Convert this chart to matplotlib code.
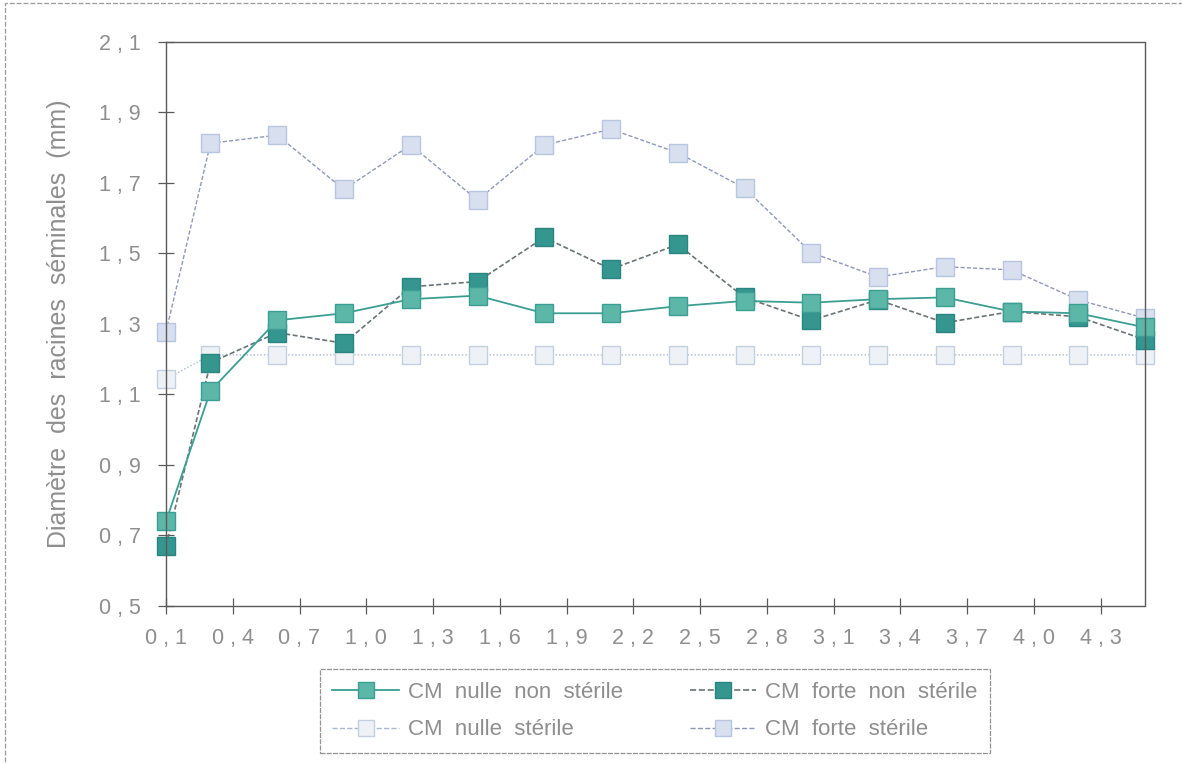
"""Diamètre des racines séminales selon la distance, quatre traitements CM."""

import matplotlib

matplotlib.use("Agg")
import matplotlib.pyplot as plt
from matplotlib.lines import Line2D
from matplotlib.patches import Rectangle

plt.rcParams["font.family"] = ["Liberation Sans", "DejaVu Sans"]

# distance (abscisse) and diameters in mm
distance = [0.1, 0.3, 0.6, 0.9, 1.2, 1.5, 1.8, 2.1, 2.4, 2.7, 3.0, 3.3, 3.6, 3.9, 4.2, 4.5]
nulle_non_sterile = [0.74, 1.11, 1.31, 1.33, 1.37, 1.38, 1.33, 1.33, 1.35, 1.365,
                     1.36, 1.37, 1.375, 1.335, 1.33, 1.29]
forte_non_sterile = [0.67, 1.19, 1.275, 1.245, 1.405, 1.42, 1.545, 1.455, 1.525, 1.375,
                     1.31, 1.368, 1.303, 1.335, 1.32, 1.255]
nulle_sterile = [1.143, 1.212, 1.212, 1.212, 1.212, 1.212, 1.212, 1.212, 1.212, 1.212,
                 1.212, 1.212, 1.212, 1.212, 1.212, 1.212]
forte_sterile = [1.277, 1.812, 1.835, 1.681, 1.807, 1.651, 1.807, 1.852, 1.785, 1.685,
                 1.502, 1.433, 1.462, 1.453, 1.368, 1.316]

x_ticks = [0.1, 0.4, 0.7, 1.0, 1.3, 1.6, 1.9, 2.2, 2.5, 2.8, 3.1, 3.4, 3.7, 4.0, 4.3]
y_ticks = [0.5, 0.7, 0.9, 1.1, 1.3, 1.5, 1.7, 1.9, 2.1]

TEXT_GREY = "#8e8e8e"
AXIS_GREY = "#5a5a5a"


def fmt(v):
    return f"{v:.1f}".replace(".", " , ")


fig = plt.figure(figsize=(11.82, 7.64), dpi=100)
ax = fig.add_axes([166 / 1182, 1 - 606 / 764, (1145 - 166) / 1182, (606 - 41.7) / 764])

styles = [
    ("CM nulle non stérile", nulle_non_sterile,
     dict(color="#3a9f92", ls="-", lw=1.3, mfc="#5cb7a8", mec="#3a9f92")),
    ("CM forte non stérile", forte_non_sterile,
     dict(color="#6a7375", ls=(0, (3, 1.5)), lw=1.2, mfc="#35968f", mec="#2a8580")),
    ("CM nulle stérile", nulle_sterile,
     dict(color="#a9b8cc", ls=(0, (1, 1.5)), lw=1.0, mfc="#eef2f7", mec="#c5d0de")),
    ("CM forte stérile", forte_sterile,
     dict(color="#8e98bb", ls=(0, (3, 1.5)), lw=1.0, mfc="#d8e0ef", mec="#b8c6e0")),
]

handles = {}
# draw light series first so the teal ones sit on top
for name, values, st in [styles[2], styles[3], styles[1], styles[0]]:
    (line,) = ax.plot(distance, values, marker="s", ms=13.5, mew=1.0, clip_on=False,
                      label=name, **st)
    handles[name] = line

ax.set_xlim(0.1, 4.5)
ax.set_ylim(0.5, 2.1)
ax.set_xticks(x_ticks)
ax.set_xticklabels([fmt(v) for v in x_ticks])
ax.set_yticks(y_ticks)
ax.set_yticklabels([fmt(v) for v in y_ticks])
ax.tick_params(direction="inout", length=12, width=0.9, color=AXIS_GREY,
               labelcolor=TEXT_GREY, labelsize=15.5)
ax.tick_params(axis="x", pad=10)
ax.tick_params(axis="y", pad=12)

for side in ["left", "right", "top", "bottom"]:
    ax.spines[side].set_linestyle((0, (4, 1)))
    ax.spines[side].set_color(AXIS_GREY)
    ax.spines[side].set_linewidth(1.0)

ax.set_ylabel("Diamètre  des  racines  séminales  (mm)", fontsize=18, color=TEXT_GREY,
              labelpad=20)

order = ["CM nulle non stérile", "CM nulle stérile", "CM forte non stérile", "CM forte stérile"]
leg_handles = []
for name in order:
    h = handles[name]
    leg_handles.append(Line2D([], [], color=h.get_color(), ls=h.get_linestyle(),
                              lw=h.get_linewidth(), marker="s", ms=12,
                              mfc=h.get_markerfacecolor(), mec=h.get_markeredgecolor()))
leg = fig.legend(leg_handles, [n.replace(" ", "  ") for n in order], ncol=2, loc="center",
                 bbox_to_anchor=(655 / 1182, 1 - 711 / 764), fontsize=16,
                 frameon=True, fancybox=False, handlelength=3.0, columnspacing=3.0,
                 labelspacing=0.75, borderpad=0.55, handletextpad=0.4)
leg.get_frame().set_linestyle((0, (4, 1)))
leg.get_frame().set_edgecolor("#777777")
leg.get_frame().set_linewidth(0.9)
for t in leg.get_texts():
    t.set_color(TEXT_GREY)

# dashed frame of the scanned page
fig.patches.append(Rectangle((5 / 1182, -0.01), 1.0, 1 - 3 / 764 + 0.01,
                             transform=fig.transFigure, fill=False,
                             ls=(0, (4, 1.5)), lw=0.9, ec="#9a9a9a"))

fig.savefig("out.png", dpi=100)
